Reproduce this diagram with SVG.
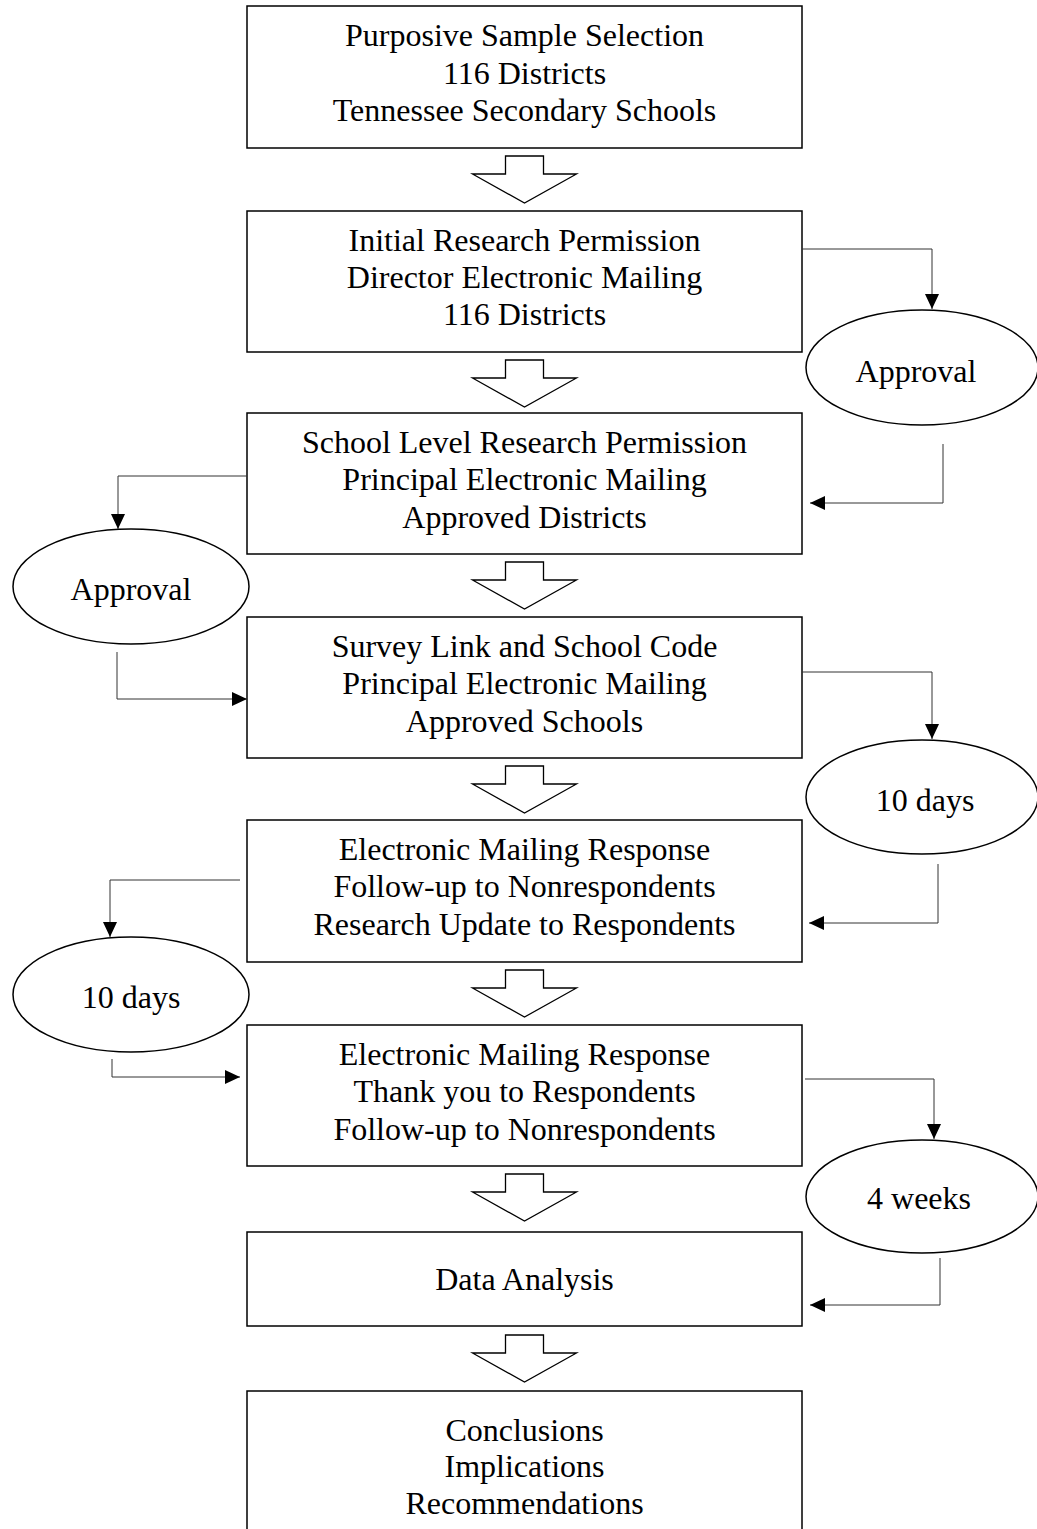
<svg xmlns="http://www.w3.org/2000/svg" width="1037" height="1529" viewBox="0 0 1037 1529">
<style>
.box{fill:#fff;stroke:#000;stroke-width:1.5}
.ell{fill:#fff;stroke:#000;stroke-width:1.5}
.blk{fill:#fff;stroke:#000;stroke-width:1.3}
.con{fill:none;stroke:#333;stroke-width:1}
text{font-family:"Liberation Serif","Times New Roman",serif;font-size:32px;fill:#000;text-anchor:middle}
</style>
<defs>
<marker id="ah" markerUnits="userSpaceOnUse" markerWidth="16" markerHeight="14" refX="15" refY="7" orient="auto">
<path d="M0,0 L15,7 L0,14 Z" fill="#000"/>
</marker>
<path id="blockArrow" d="M-19,0 H19 V18 H52 L0,47 L-52,18 H-19 Z"/>
</defs>
<rect width="1037" height="1529" fill="#fff"/>

<g id="n1"><rect class="box" x="247" y="6" width="555" height="142"/>
<text x="524.5" y="46">Purposive Sample Selection</text><text x="524.5" y="83.5">116 Districts</text><text x="524.5" y="121">Tennessee Secondary Schools</text></g>

<g id="n2"><rect class="box" x="247" y="211" width="555" height="141"/>
<text x="524.5" y="251">Initial Research Permission</text><text x="524.5" y="288">Director Electronic Mailing</text><text x="524.5" y="325">116 Districts</text></g>

<g id="n3"><rect class="box" x="247" y="413" width="555" height="141"/>
<text x="524.5" y="453">School Level Research Permission</text><text x="524.5" y="490">Principal Electronic Mailing</text><text x="524.5" y="528">Approved Districts</text></g>

<g id="n4"><rect class="box" x="247" y="617" width="555" height="141"/>
<text x="524.5" y="657">Survey Link and School Code</text><text x="524.5" y="694">Principal Electronic Mailing</text><text x="524.5" y="732">Approved Schools</text></g>

<g id="n5"><rect class="box" x="247" y="820" width="555" height="142"/>
<text x="524.5" y="860">Electronic Mailing Response</text><text x="524.5" y="897">Follow-up to Nonrespondents</text><text x="524.5" y="935">Research Update to Respondents</text></g>

<g id="n6"><rect class="box" x="247" y="1025" width="555" height="141"/>
<text x="524.5" y="1065">Electronic Mailing Response</text><text x="524.5" y="1102">Thank you to Respondents</text><text x="524.5" y="1140">Follow-up to Nonrespondents</text></g>

<g id="n7"><rect class="box" x="247" y="1232" width="555" height="94"/>
<text x="524.5" y="1290">Data Analysis</text></g>

<g id="n8"><rect class="box" x="247" y="1391" width="555" height="160"/>
<text x="524.5" y="1441">Conclusions</text><text x="524.5" y="1477">Implications</text><text x="524.5" y="1514">Recommendations</text></g>

<g id="e1"><ellipse class="ell" cx="922" cy="367.5" rx="116" ry="57.5"/><text x="916" y="382">Approval</text></g>
<g id="e2"><ellipse class="ell" cx="131" cy="586.5" rx="118" ry="57.5"/><text x="131" y="600">Approval</text></g>
<g id="e3"><ellipse class="ell" cx="922" cy="797" rx="116" ry="57"/><text x="925" y="811">10 days</text></g>
<g id="e4"><ellipse class="ell" cx="131" cy="994.5" rx="118" ry="57.5"/><text x="131" y="1008">10 days</text></g>
<g id="e5"><ellipse class="ell" cx="922" cy="1196.5" rx="116" ry="56.5"/><text x="919" y="1209">4 weeks</text></g>

<g id="blockArrows" class="blk">
<use href="#blockArrow" x="524.5" y="156"/>
<use href="#blockArrow" x="524.5" y="360"/>
<use href="#blockArrow" x="524.5" y="562"/>
<use href="#blockArrow" x="524.5" y="766"/>
<use href="#blockArrow" x="524.5" y="970"/>
<use href="#blockArrow" x="524.5" y="1174"/>
<use href="#blockArrow" x="524.5" y="1335"/>
</g>

<g id="connectors" class="con">
<path d="M802,249 H932 V309" marker-end="url(#ah)"/>
<path d="M943,444 V503 H810" marker-end="url(#ah)"/>
<path d="M247,476 H118 V529" marker-end="url(#ah)"/>
<path d="M117,652 V699 H247" marker-end="url(#ah)"/>
<path d="M802,672 H932 V739" marker-end="url(#ah)"/>
<path d="M938,864 V923 H809" marker-end="url(#ah)"/>
<path d="M240,880 H110 V937" marker-end="url(#ah)"/>
<path d="M112,1059 V1077 H240" marker-end="url(#ah)"/>
<path d="M805,1079 H934 V1139" marker-end="url(#ah)"/>
<path d="M940,1258 V1305 H810" marker-end="url(#ah)"/>
</g>
</svg>
